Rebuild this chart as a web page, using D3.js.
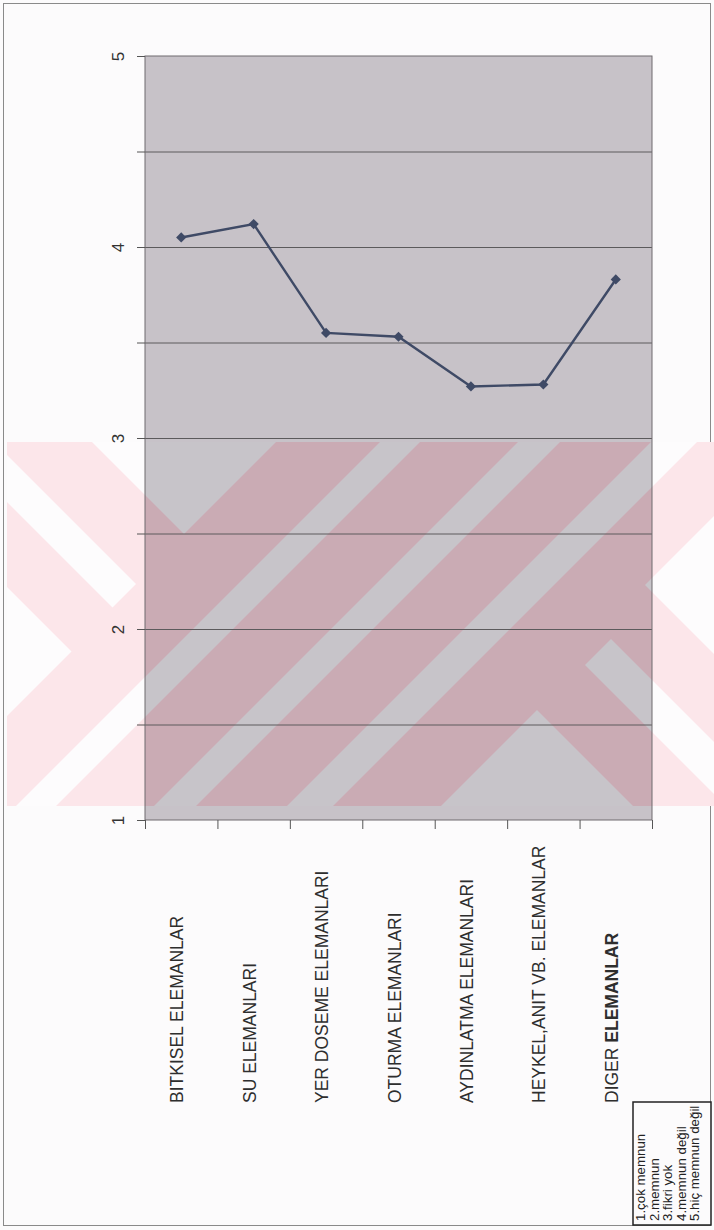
<!DOCTYPE html>
<html lang="tr">
<head>
<meta charset="utf-8">
<title>Donati elemanlari memnuniyet</title>
<script src="https://cdn.jsdelivr.net/npm/d3@7"></script>
<style>
  body { margin: 0; background: #fcfbfc; }
  svg { display: block; font-family: "Liberation Sans", Arial, sans-serif; }
  .grid line { stroke: #5c5a5c; stroke-width: 1px; }
  .grid path { display: none; }
  .axis path { display: none; }
  .axis line { stroke: #555; }
  .ytick { font-size: 17px; }
  .kat { font-size: 17.5px; }
  .lej { font-size: 13.3px; }
</style>
</head>
<body>
<svg width="714" height="1230"></svg>
<script>
// veriler
var kategoriler = ["BITKISEL ELEMANLAR", "SU ELEMANLARI", "YER DOSEME ELEMANLARI", "OTURMA ELEMANLARI",
                   "AYDINLATMA ELEMANLARI", "HEYKEL,ANIT VB. ELEMANLAR", "DIGER ELEMANLAR"];
var ortalamalar = [4.05, 4.12, 3.55, 3.53, 3.27, 3.28, 3.83];
var degerEtiketleri = [1, 2, 3, 4, 5];
var araCizgiler = [1.5, 2, 2.5, 3, 3.5, 4, 4.5];
var lejant = ["1.çok memnun", "2.memnun", "3.fikri yok", "4.memnun değil", "5.hiç memnun değil"];

var svg = d3.select("svg"),
    plot = {left: 145, right: 652, top: 56, bottom: 820};

var x = d3.scaleBand().domain(kategoriler).range([plot.left, plot.right]),
    xi = d3.scaleLinear().domain([0, kategoriler.length]).range([plot.left, plot.right]),
    y = d3.scaleLinear().domain([1, 5]).range([plot.bottom, plot.top]);

// sayfa cercevesi
svg.append("rect").attr("x", 3.5).attr("y", 3.5).attr("width", 707).attr("height", 1222)
    .attr("fill", "#fcfbfc").attr("stroke", "#8a8a8a");

// taranmis sayfadaki filigran (yarim duzlemlerle kirpilan seritler)
function kirp(poly, a, b, k) {
  var out = [];
  for (var i = 0; i < poly.length; i++) {
    var p = poly[i], q = poly[(i + 1) % poly.length];
    var fp = a * p[0] + b * p[1] - k, fq = a * q[0] + b * q[1] - k;
    if (fp <= 0) out.push(p);
    if ((fp < 0 && fq > 0) || (fp > 0 && fq < 0)) {
      var t = fp / (fp - fq);
      out.push([p[0] + t * (q[0] - p[0]), p[1] + t * (q[1] - p[1])]);
    }
  }
  return out;
}
var bant = [[7, 442], [714, 442], [714, 806], [7, 806]];
var acikBolgeler = [
  [[1, 1, 718], [-1, 1, 350]],
  [[1, 1, 720], [1, -1, -448], [-1, 1, 495]],
  [[1, 1, 723], [1, -1, -580]],
  [[-1, -1, -822], [1, 1, 862]],
  [[-1, -1, -960], [1, 1, 1002]],
  [[-1, -1, -1093], [1, 1, 1139]],
  [[-1, -1, -1247], [1, -1, -173]],
  [[-1, -1, -1250], [1, -1, -28], [-1, 1, 80]],
  [[-1, -1, -1230], [-1, 1, -60]]
].map(function(kurallar) {
  return kurallar.reduce(function(p, r) { return kirp(p, r[0], r[1], r[2]); }, bant);
});

function filigran(g, pembe, acik) {
  g.append("polygon").attr("points", bant.join(" ")).attr("fill", pembe);
  g.selectAll(".acik").data(acikBolgeler.filter(function(p) { return p.length > 2; }))
    .enter().append("polygon")
      .attr("points", function(p) { return p.join(" "); })
      .attr("fill", acik);
}
filigran(svg.append("g"), "#fce6ea", "#fdfcfd");

// cizim alani
svg.append("clipPath").attr("id", "alan").append("rect")
    .attr("x", plot.left).attr("y", plot.top)
    .attr("width", plot.right - plot.left).attr("height", plot.bottom - plot.top);
svg.append("rect").attr("x", plot.left).attr("y", plot.top)
    .attr("width", plot.right - plot.left).attr("height", plot.bottom - plot.top)
    .attr("fill", "#c7c2c8");
filigran(svg.append("g").attr("clip-path", "url(#alan)"), "#caabb4", "#c7c4c9");

svg.append("g").attr("class", "grid")
    .attr("transform", "translate(" + plot.left + ",0)")
    .call(d3.axisLeft(y).tickValues(araCizgiler).tickSize(-(plot.right - plot.left)).tickFormat(""));

svg.append("rect").attr("x", plot.left).attr("y", plot.top)
    .attr("width", plot.right - plot.left).attr("height", plot.bottom - plot.top)
    .attr("fill", "none").attr("stroke", "#6f6b6f");

// deger ekseni (yatay, ust)
var yEks = svg.append("g").attr("class", "axis")
    .attr("transform", "translate(" + plot.left + ",0)")
    .call(d3.axisLeft(y).tickValues([1].concat(araCizgiler, [5])).tickSize(8)
      .tickFormat(function(d) { return degerEtiketleri.indexOf(d) >= 0 ? d : ""; }));
yEks.attr("font-size", null);
yEks.selectAll("text")
    .attr("x", null).attr("dy", null)
    .attr("class", "ytick")
    .attr("font-size", 17)
    .attr("text-anchor", "middle")
    .attr("transform", "translate(-21,0) rotate(-90)")
    .attr("fill", "#333");

// kategori ekseni
svg.append("g").attr("class", "axis")
    .attr("transform", "translate(0," + plot.bottom + ")")
    .call(d3.axisBottom(xi).tickValues(d3.range(kategoriler.length + 1)).tickSize(9).tickFormat(""));

var etiket = svg.append("g").selectAll("text")
    .data(kategoriler)
  .enter().append("text")
    .attr("class", "kat")
    .attr("font-size", 17.5)
    .attr("transform", function(d) {
      return "translate(" + (x(d) + x.bandwidth() / 2 + 2) + ",1103) rotate(-90)";
    })
    .attr("fill", "#2e2e2e");
etiket.each(function(d, i) {
  var t = d3.select(this);
  if (i === kategoriler.length - 1) {
    var parca = d.split(" ");
    t.append("tspan").text(parca[0] + " ");
    t.append("tspan").attr("font-weight", "bold").text(parca[1]);
  } else {
    t.text(d);
  }
});

// ortalama cizgisi
var line = d3.line()
    .x(function(d, i) { return x(kategoriler[i]) + x.bandwidth() / 2; })
    .y(function(d) { return y(d); });

svg.append("path").datum(ortalamalar)
    .attr("d", line)
    .attr("fill", "none").attr("stroke", "#3f4a66").attr("stroke-width", 2.4);

svg.append("g").selectAll("path")
    .data(ortalamalar)
  .enter().append("path")
    .attr("d", d3.symbol(d3.symbolSquare, 52))
    .attr("transform", function(d, i) {
      return "translate(" + (x(kategoriler[i]) + x.bandwidth() / 2) + "," + y(d) + ") rotate(45)";
    })
    .attr("fill", "#3f4a66");

// lejant
svg.append("rect").attr("x", 633).attr("y", 1102).attr("width", 78).attr("height", 123)
    .attr("fill", "#fcfbfc").attr("stroke", "#222").attr("stroke-width", 1.5);
svg.append("g").selectAll("text")
    .data(lejant)
  .enter().append("text")
    .attr("class", "lej")
    .attr("font-size", 13.3)
    .attr("transform", function(d, i) { return "translate(" + (645 + i * 13.6) + ",1221) rotate(-90)"; })
    .attr("fill", "#222")
    .text(function(d) { return d; });
</script>
</body>
</html>
